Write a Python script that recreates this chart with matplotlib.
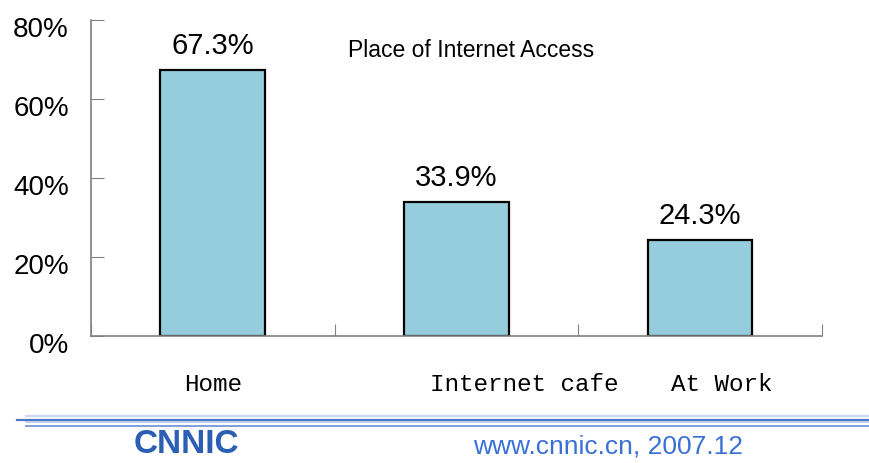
import matplotlib.pyplot as plt
from matplotlib.lines import Line2D
from matplotlib.transforms import ScaledTranslation

places = ['Home', 'Internet cafe', 'At Work']
shares = [67.3, 33.9, 24.3]
yticks = [0, 20, 40, 60, 80]
# label positions shifted like in the original slide
label_x = [0, 1.28, 2.09]

fig = plt.figure(figsize=(8.69, 4.63), dpi=100)
ax = fig.add_axes([0.1047, 0.2743, 0.841, 0.6825])

x = range(len(places))
ax.bar(x, shares, width=0.43, color='#96cddd', edgecolor='black', linewidth=1.6)
for i, v in enumerate(shares):
    ax.text(i, v + 2.5, '%.1f%%' % v, ha='center', va='bottom',
            fontsize=21, family='Liberation Sans')

ax.set_xlim(-0.5, 2.5)
ax.set_ylim(0, 80)
ax.set_yticks(yticks)
ax.set_yticklabels(['%d%%' % t for t in yticks], fontsize=20, family='Liberation Sans')
ax.tick_params(axis='y', direction='in', length=9, color='#808080', pad=16)
shift = ScaledTranslation(0, -7 / 100, fig.dpi_scale_trans)
for lab in ax.get_yticklabels():
    lab.set_transform(lab.get_transform() + shift)
ax.set_xticks([-0.5, 0.5, 1.5, 2.5])
ax.set_xticklabels([])
ax.tick_params(axis='x', direction='in', length=9, color='#808080')
for s in ['top', 'right']:
    ax.spines[s].set_visible(False)
for s in ['left', 'bottom']:
    ax.spines[s].set_color('#808080')
    ax.spines[s].set_linewidth(1.2)

for xi, name in zip(label_x, places):
    ax.text(xi, -12.4, name, ha='center', va='center', fontsize=17.5,
            family='Liberation Mono')

ax.text(1.06, 72.4, 'Place of Internet Access', ha='center', va='center',
        fontsize=16.5, family='Liberation Sans')

# footer bands
fig.add_artist(Line2D([0.03, 1.0], [0.1015, 0.1015], color='#c9d8f0', lw=1.6))
fig.add_artist(Line2D([0.02, 1.0], [0.093, 0.093], color='#4a78c8', lw=1.6))
fig.add_artist(Line2D([0.03, 1.0], [0.0875, 0.0875], color='#b5c9ec', lw=1.2))
fig.add_artist(Line2D([0.03, 1.0], [0.080, 0.080], color='#7f9fdc', lw=1.4))

fig.text(0.214, 0.04, 'CNNIC', ha='center', va='center', fontsize=24,
         fontweight='bold', color='#2b5fb4', family='Liberation Sans')
fig.text(0.7, 0.035, 'www.cnnic.cn, 2007.12', ha='center', va='center',
         fontsize=19, color='#3a70d6', family='Liberation Sans')

fig.savefig('out.png', dpi=100)
